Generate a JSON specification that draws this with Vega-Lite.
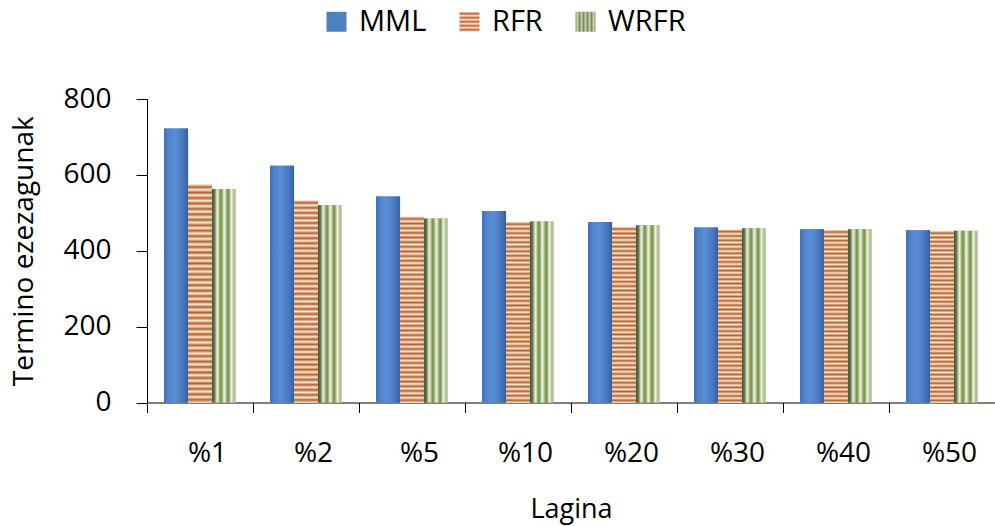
{
  "$schema": "https://vega.github.io/schema/vega-lite/v6.json",
  "width": 848,
  "height": 303.5,
  "autosize": "none",
  "padding": {"left": 147, "top": 99, "right": 0, "bottom": 123.5},
  "config": {
    "view": {"stroke": null},
    "font": "Open Sans",
    "axis": {"labelColor": "#000000", "titleColor": "#000000", "domainColor": "#000000", "tickColor": "#000000", "titleFontWeight": "normal", "grid": false}
  },
  "data": {
    "values": [
      {"lagina": "%1", "series": "MML", "value": 722},
      {"lagina": "%1", "series": "RFR", "value": 575},
      {"lagina": "%1", "series": "WRFR", "value": 563},
      {"lagina": "%2", "series": "MML", "value": 624},
      {"lagina": "%2", "series": "RFR", "value": 533},
      {"lagina": "%2", "series": "WRFR", "value": 520},
      {"lagina": "%5", "series": "MML", "value": 543},
      {"lagina": "%5", "series": "RFR", "value": 490},
      {"lagina": "%5", "series": "WRFR", "value": 485},
      {"lagina": "%10", "series": "MML", "value": 505},
      {"lagina": "%10", "series": "RFR", "value": 476},
      {"lagina": "%10", "series": "WRFR", "value": 477},
      {"lagina": "%20", "series": "MML", "value": 476},
      {"lagina": "%20", "series": "RFR", "value": 463},
      {"lagina": "%20", "series": "WRFR", "value": 467},
      {"lagina": "%30", "series": "MML", "value": 461},
      {"lagina": "%30", "series": "RFR", "value": 456},
      {"lagina": "%30", "series": "WRFR", "value": 459},
      {"lagina": "%40", "series": "MML", "value": 457},
      {"lagina": "%40", "series": "RFR", "value": 455},
      {"lagina": "%40", "series": "WRFR", "value": 457},
      {"lagina": "%50", "series": "MML", "value": 454},
      {"lagina": "%50", "series": "RFR", "value": 452},
      {"lagina": "%50", "series": "WRFR", "value": 453}
    ]
  },
  "encoding": {
    "x": {
      "field": "lagina", "type": "nominal",
      "sort": ["%1", "%2", "%5", "%10", "%20", "%30", "%40", "%50"],
      "scale": {"paddingInner": 0, "paddingOuter": 0},
      "axis": {"title": "Lagina", "labelAngle": 0, "tickBand": "extent", "tickSize": 10, "labelFontSize": 28, "labelPadding": 27, "labelOffset": 7, "titleFontSize": 27, "titlePadding": 29}
    },
    "xOffset": {
      "field": "series", "type": "nominal", "sort": ["MML", "RFR", "WRFR"],
      "scale": {"paddingInner": 0, "paddingOuter": 0.72}
    },
    "y": {
      "field": "value", "type": "quantitative",
      "scale": {"domain": [0, 800], "nice": false},
      "axis": {"title": "Termino ezezagunak", "values": [0, 200, 400, 600, 800], "tickSize": 11, "labelFontSize": 28, "labelPadding": 25, "titleFontSize": 28, "titlePadding": 24}
    }
  },
  "layer": [
    {
      "mark": {"type": "bar"},
      "encoding": {
        "color": {
          "field": "series", "type": "nominal", "sort": ["MML", "RFR", "WRFR"],
          "scale": {"domain": ["MML", "RFR", "WRFR"], "range": [
            "#4f81c0",
            {"expr": "{gradient: 'linear', x1: 0, y1: 0, x2: 0, y2: 1, stops: [{offset: 0, color: '#fbe9d8'}, {offset: 0.1, color: '#b8612a'}, {offset: 0.2, color: '#fbe9d8'}, {offset: 0.3, color: '#b8612a'}, {offset: 0.4, color: '#fbe9d8'}, {offset: 0.5, color: '#b8612a'}, {offset: 0.6, color: '#fbe9d8'}, {offset: 0.7, color: '#b8612a'}, {offset: 0.8, color: '#fbe9d8'}, {offset: 0.9, color: '#b8612a'}, {offset: 1, color: '#fbe9d8'}]}"},
            {"expr": "{gradient: 'linear', x1: 0, y1: 0, x2: 1, y2: 0, stops: [{offset: 0, color: '#8e9a70'}, {offset: 0.1, color: '#c6ceb0'}, {offset: 0.2, color: '#7f8c5e'}, {offset: 0.3, color: '#c6ceb0'}, {offset: 0.4, color: '#7f8c5e'}, {offset: 0.5, color: '#c6ceb0'}, {offset: 0.6, color: '#7f8c5e'}, {offset: 0.7, color: '#c6ceb0'}, {offset: 0.8, color: '#7f8c5e'}, {offset: 0.9, color: '#c6ceb0'}, {offset: 1, color: '#8e9a70'}]}"}
          ]},
          "legend": {
            "orient": "none", "legendX": 175, "legendY": -92, "direction": "horizontal", "title": null,
            "symbolType": "square", "symbolSize": 400, "symbolStrokeWidth": 0,
            "labelFontSize": 29, "labelColor": "#000000", "labelOffset": 8, "columnPadding": 28, "padding": 0
          }
        }
      }
    },
    {
      "transform": [{"filter": "datum.series === 'MML'"}],
      "mark": {
        "type": "bar",
        "fill": {"gradient": "linear", "x1": 0, "y1": 0, "x2": 1, "y2": 0, "stops": [
          {"offset": 0, "color": "#3d6aae"},
          {"offset": 0.15, "color": "#4f82cc"},
          {"offset": 0.45, "color": "#5a8ed6"},
          {"offset": 0.8, "color": "#4676be"},
          {"offset": 1, "color": "#35609f"}
        ]}
      }
    },
    {
      "transform": [{"filter": "datum.series === 'RFR'"}],
      "mark": {
        "type": "bar",
        "fill": {"gradient": "linear", "x1": 0, "y1": 0, "x2": 0, "y2": 1, "stops": [
          {"offset": 0, "color": "#fbe9d6"},
          {"offset": 0.0125, "color": "#b3602c"},
          {"offset": 0.025, "color": "#fbe9d6"},
          {"offset": 0.0375, "color": "#b3602c"},
          {"offset": 0.05, "color": "#fbe9d6"},
          {"offset": 0.0625, "color": "#b3602c"},
          {"offset": 0.075, "color": "#fbe9d6"},
          {"offset": 0.0875, "color": "#b3602c"},
          {"offset": 0.1, "color": "#fbe9d6"},
          {"offset": 0.1125, "color": "#b3602c"},
          {"offset": 0.125, "color": "#fbe9d6"},
          {"offset": 0.1375, "color": "#b3602c"},
          {"offset": 0.15, "color": "#fbe9d6"},
          {"offset": 0.1625, "color": "#b3602c"},
          {"offset": 0.175, "color": "#fbe9d6"},
          {"offset": 0.1875, "color": "#b3602c"},
          {"offset": 0.2, "color": "#fbe9d6"},
          {"offset": 0.2125, "color": "#b3602c"},
          {"offset": 0.225, "color": "#fbe9d6"},
          {"offset": 0.2375, "color": "#b3602c"},
          {"offset": 0.25, "color": "#fbe9d6"},
          {"offset": 0.2625, "color": "#b3602c"},
          {"offset": 0.275, "color": "#fbe9d6"},
          {"offset": 0.2875, "color": "#b3602c"},
          {"offset": 0.3, "color": "#fbe9d6"},
          {"offset": 0.3125, "color": "#b3602c"},
          {"offset": 0.325, "color": "#fbe9d6"},
          {"offset": 0.3375, "color": "#b3602c"},
          {"offset": 0.35, "color": "#fbe9d6"},
          {"offset": 0.3625, "color": "#b3602c"},
          {"offset": 0.375, "color": "#fbe9d6"},
          {"offset": 0.3875, "color": "#b3602c"},
          {"offset": 0.4, "color": "#fbe9d6"},
          {"offset": 0.4125, "color": "#b3602c"},
          {"offset": 0.425, "color": "#fbe9d6"},
          {"offset": 0.4375, "color": "#b3602c"},
          {"offset": 0.45, "color": "#fbe9d6"},
          {"offset": 0.4625, "color": "#b3602c"},
          {"offset": 0.475, "color": "#fbe9d6"},
          {"offset": 0.4875, "color": "#b3602c"},
          {"offset": 0.5, "color": "#fbe9d6"},
          {"offset": 0.5125, "color": "#b3602c"},
          {"offset": 0.525, "color": "#fbe9d6"},
          {"offset": 0.5375, "color": "#b3602c"},
          {"offset": 0.55, "color": "#fbe9d6"},
          {"offset": 0.5625, "color": "#b3602c"},
          {"offset": 0.575, "color": "#fbe9d6"},
          {"offset": 0.5875, "color": "#b3602c"},
          {"offset": 0.6, "color": "#fbe9d6"},
          {"offset": 0.6125, "color": "#b3602c"},
          {"offset": 0.625, "color": "#fbe9d6"},
          {"offset": 0.6375, "color": "#b3602c"},
          {"offset": 0.65, "color": "#fbe9d6"},
          {"offset": 0.6625, "color": "#b3602c"},
          {"offset": 0.675, "color": "#fbe9d6"},
          {"offset": 0.6875, "color": "#b3602c"},
          {"offset": 0.7, "color": "#fbe9d6"},
          {"offset": 0.7125, "color": "#b3602c"},
          {"offset": 0.725, "color": "#fbe9d6"},
          {"offset": 0.7375, "color": "#b3602c"},
          {"offset": 0.75, "color": "#fbe9d6"},
          {"offset": 0.7625, "color": "#b3602c"},
          {"offset": 0.775, "color": "#fbe9d6"},
          {"offset": 0.7875, "color": "#b3602c"},
          {"offset": 0.8, "color": "#fbe9d6"},
          {"offset": 0.8125, "color": "#b3602c"},
          {"offset": 0.825, "color": "#fbe9d6"},
          {"offset": 0.8375, "color": "#b3602c"},
          {"offset": 0.85, "color": "#fbe9d6"},
          {"offset": 0.8625, "color": "#b3602c"},
          {"offset": 0.875, "color": "#fbe9d6"},
          {"offset": 0.8875, "color": "#b3602c"},
          {"offset": 0.9, "color": "#fbe9d6"},
          {"offset": 0.9125, "color": "#b3602c"},
          {"offset": 0.925, "color": "#fbe9d6"},
          {"offset": 0.9375, "color": "#b3602c"},
          {"offset": 0.95, "color": "#fbe9d6"},
          {"offset": 0.9625, "color": "#b3602c"},
          {"offset": 0.975, "color": "#fbe9d6"},
          {"offset": 0.9875, "color": "#b3602c"},
          {"offset": 1, "color": "#fbe9d6"}
        ]}
      }
    },
    {
      "transform": [{"filter": "datum.series === 'WRFR'"}],
      "mark": {
        "type": "bar",
        "fill": {"gradient": "linear", "x1": 0, "y1": 0, "x2": 1, "y2": 0, "stops": [
          {"offset": 0, "color": "#4d5a3c"},
          {"offset": 0.1, "color": "#5f7040"},
          {"offset": 0.22, "color": "#eef4e2"},
          {"offset": 0.38, "color": "#6e8c3a"},
          {"offset": 0.52, "color": "#f2f6e6"},
          {"offset": 0.68, "color": "#6e8c3a"},
          {"offset": 0.82, "color": "#eef4e2"},
          {"offset": 0.92, "color": "#a8b890"},
          {"offset": 1, "color": "#d0d6c6"}
        ]}
      }
    }
  ]
}
